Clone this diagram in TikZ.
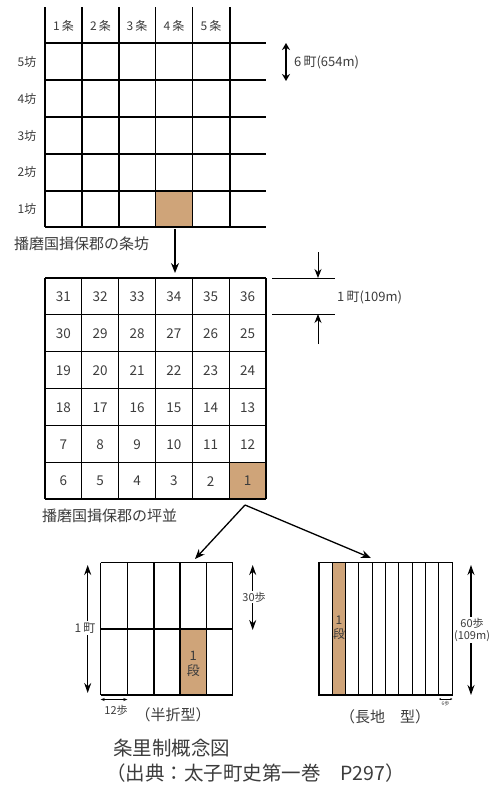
\documentclass[tikz,border=0pt]{standalone}
\usepackage{fontspec}
\setmainfont{Noto Sans CJK JP}
\usetikzlibrary{arrows.meta}
\definecolor{tan}{RGB}{207,164,121}
\definecolor{txt}{RGB}{60,60,60}
\begin{document}
\begin{tikzpicture}[x=1pt,y=-1pt,
  gl/.style={line width=1.3pt,black},
  lbl/.style={font=\fontsize{12}{13}\selectfont,text=txt,inner sep=1pt},
  num/.style={font=\fontsize{13.5}{14}\selectfont,text=txt,inner sep=0pt},
  sml/.style={font=\fontsize{11}{12}\selectfont,text=txt,inner sep=1pt,align=center},
  big/.style={font=\fontsize{19.5}{21}\selectfont,text=txt,inner sep=0pt,anchor=west},
  captxt/.style={font=\fontsize{15}{16}\selectfont,text=txt,inner sep=1pt},
  arr/.style={line width=1.3pt,-{Stealth[length=10pt,width=8pt]}},
  darr/.style={line width=1.3pt,{Stealth[length=10pt,width=7pt]}-{Stealth[length=10pt,width=7pt]}}]
\useasboundingbox (0,0) rectangle (496,785);
% ---------- top grid (jo-bo) ----------
\fill[tan] (155.5,191) rectangle (192.5,227);
\foreach \x in {45,82,119,155.5,192.5,230} \draw[gl] (\x,7) -- (\x,227);
\foreach \y in {43,80,117,154,191,227} \draw[gl] (45,\y) -- (266,\y);
\foreach \i/\x in {1/63.5,2/100.5,3/137,4/174,5/211}
  \node[lbl] (jo\i) at (\x,26) {\i\,条};
\foreach \i/\y in {5/62,4/99,3/136,2/172,1/209}
  \node[lbl] (bo\i) at (27,\y) {\i 坊};
\coordinate (s6a) at (286,43);
\coordinate (s6b) at (286,81);
\draw[line width=2pt,{Stealth[length=7pt,width=8pt]}-{Stealth[length=7pt,width=8pt]}] (s6a) -- (s6b);
\node[lbl,anchor=west,font=\fontsize{13}{14}\selectfont] (six) at (293,62) {6\,町(654m)};
\node[captxt,anchor=west] (jobo) at (13,244) {播磨国揖保郡の条坊};
\coordinate (a1s) at (175,229);
\coordinate (a1e) at (175,273);
\draw[arr] (a1s) -- (a1e);
% ---------- second grid (tsubo) ----------
\fill[tan] (229.2,462.2) rectangle (266,499);
\foreach \k in {0,...,6} {
  \draw[gl] ({45+36.83*\k},278) -- ({45+36.83*\k},499);
  \draw[gl] (45,{278+36.83*\k}) -- (266,{278+36.83*\k});
}
\foreach \r/\row in {0/{31,32,33,34,35,36},1/{30,29,28,27,26,25},2/{19,20,21,22,23,24},3/{18,17,16,15,14,13},4/{7,8,9,10,11,12},5/{6,5,4,3,2,1}} {
  \foreach \n [count=\c from 0] in \row
    \node[num] (t\n) at ({63.4+36.83*\c},{297+36.83*\r}) {\n};
}
\draw[line width=0.9pt] (272,278) -- (335,278);
\draw[line width=0.9pt] (272,314) -- (335,314);
\coordinate (d1s) at (318,252);
\coordinate (d1e) at (318,278);
\coordinate (d2s) at (318,344);
\coordinate (d2e) at (318,314);
\draw[line width=1pt,-{Stealth[length=9pt,width=7pt]}] (d1s) -- (d1e);
\draw[line width=1pt,-{Stealth[length=9pt,width=7pt]}] (d2s) -- (d2e);
\node[lbl,anchor=west,font=\fontsize{13}{14}\selectfont] (one) at (336,297) {1\,町(109m)};
\node[captxt,anchor=west] (tsubo) at (41,516) {播磨国揖保郡の坪並};
\coordinate (apex) at (245,505);
\coordinate (al) at (195,559);
\coordinate (ar) at (371,558);
\draw[arr] (apex) -- (al);
\draw[arr] (apex) -- (ar);
% ---------- hanori type ----------
\fill[tan] (180,629) rectangle (206.7,695);
\foreach \x in {100.7,127.3,154,180,206.7,232.7} \draw[gl] (\x,562.7) -- (\x,695);
\foreach \y in {562.7,629,695} \draw[gl] (100.7,\y) -- (232.7,\y);
\node[sml,font=\fontsize{13}{15}\selectfont] (dan1) at (193.3,664) {1\\段};
\coordinate (lh1) at (87.7,565);
\coordinate (lh2) at (87.7,693);
\draw[darr] (lh1) -- (lh2);
\node[lbl,fill=white,inner sep=2pt] (cho1) at (85,628) {1\,町};
\coordinate (r30a) at (252.7,565);
\coordinate (r30b) at (252.7,630);
\draw[darr] (r30a) -- (r30b);
\node[sml,fill=white,inner sep=1pt] (s30) at (254,597) {30歩};
\coordinate (w12a) at (100.7,699.5);
\coordinate (w12b) at (127.3,699.5);
\draw[line width=0.6pt,{Stealth[length=4pt,width=3pt]}-{Stealth[length=4pt,width=3pt]}] (w12a) -- (w12b);
\node[sml] (s12) at (116,710) {12歩};
\node[captxt] (han) at (173,715) {（半折型）};
% ---------- nagachi type ----------
\fill[tan] (332.3,562.7) rectangle (345.7,695);
\foreach \k in {1,...,9} \draw[line width=1.0pt] ({319+13.33*\k},562.7) -- ({319+13.33*\k},695);
\draw[gl] (319,562.7) rectangle (452.3,695);
\node[sml,font=\fontsize{12}{14}\selectfont] (dan2) at (339,628) {1\\段};
\coordinate (r60a) at (471,565);
\coordinate (r60b) at (471,695);
\draw[darr] (r60a) -- (r60b);
\node[sml,fill=white,inner sep=1pt,font=\fontsize{11}{12}\selectfont] (s60) at (472,630) {60歩\\(109m)};
\coordinate (w6a) at (439,699);
\coordinate (w6b) at (452.3,699);
\draw[line width=0.4pt,{Stealth[length=2pt,width=2pt]}-{Stealth[length=2pt,width=2pt]}] (w6a) -- (w6b);
\node[sml,font=\fontsize{5}{6}\selectfont] (s6) at (445.6,704) {6歩};
\node[captxt] (naga) at (385,717) {（長地\quad 型）};
% ---------- caption ----------
\node[big] (cap1) at (113,748) {条里制概念図};
\node[big] (cap2) at (106,773) {（出典：太子町史第一巻\quad P297）};
\end{tikzpicture}
\end{document}
